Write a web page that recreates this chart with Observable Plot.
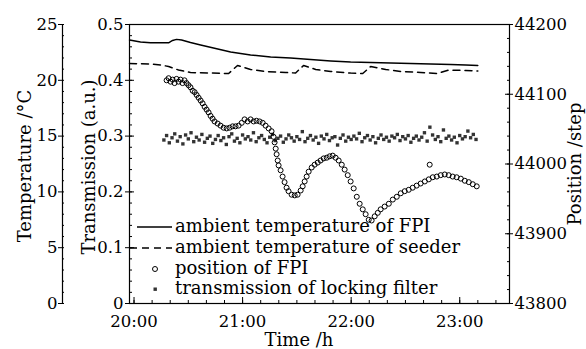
<!DOCTYPE html>
<html><head><meta charset="utf-8">
<script src="https://cdn.jsdelivr.net/npm/d3@7"></script>
<script src="https://cdn.jsdelivr.net/npm/@observablehq/plot@0.6"></script>
<style>body{margin:0;background:#fff} #chart{width:586px;height:349px}</style>
</head><body><div id="chart"></div>
<script>
// ---- data (time in minutes after 20:00) ----
const fpiTime = [-2.5,3.6,9.1,19.1,21.3,23.5,26.3,31.2,36.8,45.1,53.4,64.4,75.5,86.5,97.6,108.7,119.7,130.8,141.8,152.9,163.9,175.0,183.3,190.0];
const fpiTemp = [23.61,23.43,23.36,23.36,23.57,23.67,23.61,23.39,23.16,22.85,22.54,22.27,22.09,22.00,21.86,21.73,21.64,21.60,21.55,21.51,21.46,21.42,21.37,21.33];

const seedTime = [-2.5,9.1,14.7,19.1,24.6,31.2,42.3,52.3,57.2,64.4,72.7,83.8,89.3,93.7,100.4,108.7,119.7,126.4,130.8,139.1,147.4,158.4,167.8,173.9,183.3,190.0];
const seedTemp = [21.51,21.46,21.37,21.24,20.92,20.70,20.65,20.61,21.33,20.97,20.79,20.70,20.65,21.33,20.97,20.79,20.65,20.61,21.24,20.97,20.79,20.70,20.61,20.92,20.88,20.83];

const posTime = [18.0,19.1,20.2,21.3,22.4,23.5,24.6,25.7,26.8,27.9,29.0,30.1,
 31.2,32.4,33.5,34.6,35.7,36.8,37.9,39.0,40.1,41.2,42.3,43.4,44.5,
 46.2,47.8,49.5,51.2,52.8,54.5,56.1,57.8,59.5,61.1,62.8,64.4,66.1,67.7,69.4,71.1,72.7,74.4,76.0,
 77.1,77.7,78.3,78.8,79.4,79.9,81.0,82.1,83.2,84.3,85.4,87.1,88.8,90.4,92.1,
 93.2,94.3,95.4,96.5,98.2,99.8,101.5,103.1,104.8,106.5,108.1,109.8,111.4,113.1,
 114.8,116.4,118.1,119.7,121.4,123.1,124.7,126.4,128.0,129.7,131.3,
 133.0,134.7,136.3,138.5,140.8,143.0,145.2,147.4,149.6,151.8,154.0,156.2,158.4,160.7,162.9,165.1,167.3,169.5,171.7,173.9,176.1,178.3,180.6,182.8,185.0,187.2,189.4,
 163.4];
const posStep = [44120,44123,44118,44121,44116,44122,44118,44121,44116,44120,44116,44113,
 44110,44105,44103,44099,44095,44091,44087,44082,44078,44074,44069,44065,44061,
 44058,44055,44052,44051,44052,44054,44054,44055,44059,44064,44061,44064,44061,44062,44061,44059,44055,44051,44047,
 44039,44031,44022,44014,44005,43998,43991,43982,43974,43966,43961,43956,43955,43956,43962,
 43968,43975,43982,43989,43995,43999,44002,44005,44008,44009,44011,44012,44009,44005,
 43999,43992,43984,43975,43965,43953,43943,43935,43928,43920,43919,
 43925,43930,43935,43939,43943,43949,43953,43958,43961,43963,43966,43969,43972,43975,43978,43981,43982,43984,43985,43984,43982,43981,43979,43976,43974,43971,43968,
 43999];

const transTime = [16.5,18,19.5,21,22.5,24,25.5,27,28.5,30,31.5,33,34.5,36,37.5,39,40.5,42,43.5,45,46.5,48,49.5,51,52.5,54,55.5,57,58.5,60,61.5,63,64.5,66,67.5,69,70.5,72,73.5,75,76.5,78,79.5,81,82.5,84,85.5,87,88.5,90,91.5,93,94.5,96,97.5,99,100.5,102,103.5,105,106.5,108,109.5,111,112.5,114,115.5,117,118.5,120,121.5,123,124.5,126,127.5,129,130.5,132,133.5,135,136.5,138,139.5,141,142.5,144,145.5,147,148.5,150,151.5,153,154.5,156,157.5,159,160.5,162,163.5,165,166.5,168,169.5,171,172.5,174,175.5,177,178.5,180,181.5,183,184.5,186,187.5,189];
const transVal = [0.293,0.301,0.288,0.297,0.304,0.291,0.299,0.286,0.302,0.295,
 0.306,0.290,0.298,0.293,0.303,0.289,0.296,0.300,0.287,0.294,
 0.301,0.292,0.297,0.285,0.299,0.304,0.291,0.296,0.288,0.302,
 0.295,0.299,0.293,0.306,0.290,0.297,0.301,0.294,0.288,0.298,
 0.303,0.292,0.296,0.300,0.289,0.295,0.302,0.297,0.291,0.299,
 0.294,0.308,0.290,0.296,0.301,0.293,0.298,0.287,0.300,0.295,
 0.303,0.292,0.297,0.299,0.284,0.296,0.302,0.291,0.298,0.294,
 0.300,0.295,0.305,0.290,0.297,0.301,0.293,0.299,0.288,0.296,
 0.302,0.294,0.298,0.291,0.300,0.297,0.303,0.292,0.299,0.295,
 0.301,0.289,0.296,0.300,0.293,0.298,0.306,0.291,0.316,0.302,
 0.294,0.299,0.290,0.311,0.296,0.300,0.293,0.298,0.288,0.301,
 0.295,0.299,0.309,0.297,0.303,0.294];

// ---- ticks ----
const hourTicks = [0,60,120,180];
const hourLabels = ["20:00","21:00","22:00","23:00"];
const transTicks = [0,0.1,0.2,0.3,0.4,0.5];
const transLabels = ["0","0.1","0.2","0.3","0.4","0.5"];
const tempTicks = [0,5,10,15,20,25];
const tempLabels = ["0","5","10","15","20","25"];
const posTicks = [43800,43900,44000,44100,44200];
const posLabels = ["43800","43900","44000","44100","44200"];

const legendItems = ["ambient temperature of FPI","ambient temperature of seeder","position of FPI","transmission of locking filter"];

// ---- mapping of secondary axes onto the transmission scale ----
const tempToY = t => t / 50;
const posToY = p => (p - 43800) / 800;
const xDomain = [-2.5, 207.5];

const fpi = fpiTime.map((t,i)=>({t, v: tempToY(fpiTemp[i])}));
const seed = seedTime.map((t,i)=>({t, v: tempToY(seedTemp[i])}));
const pos = posTime.map((t,i)=>({t, v: posToY(posStep[i])}));
const trans = transTime.map((t,i)=>({t, v: transVal[i]}));

const lookup = (ticks, labels, conv) => d => {
  const i = ticks.findIndex(k => Math.abs(conv(k) - d) < 1e-9);
  return i >= 0 ? labels[i] : "";
};
const none = () => "";
const minorX = d3.range(0, 210, 10);
const minorTrans = d3.range(0, 0.5001, 0.02);
const minorTemp = d3.range(0, 25.01, 1).map(tempToY);
const minorPos = d3.range(43800, 44201, 20).map(posToY);

const W = 586, H = 349;
const plot = Plot.plot({
  width: W, height: H,
  marginLeft: 129, marginRight: 77, marginTop: 24, marginBottom: 46,
  style: {fontFamily: "DejaVu Serif", fontSize: "16.5px", background: "white", color: "black", overflow: "visible"},
  x: {domain: xDomain, label: null},
  y: {domain: [0, 0.5], label: null},
  marks: [
    Plot.frame({stroke: "black", strokeWidth: 1.2}),
    // x axis
    Plot.axisX({ticks: hourTicks, anchor: "bottom", tickSize: 0, tickPadding: 12, tickFormat: lookup(hourTicks, hourLabels, d=>d), label: null}),
    Plot.axisX({ticks: hourTicks, anchor: "bottom", tickSize: 6, dy: -6, tickFormat: none, label: null}),
    Plot.axisX({ticks: minorX, anchor: "bottom", tickSize: 3, dy: -3, tickFormat: none, label: null}),
    // transmission axis (left)
    Plot.axisY({ticks: transTicks, anchor: "left", tickSize: 4, tickPadding: 2, tickFormat: lookup(transTicks, transLabels, d=>d), label: null}),
    Plot.axisY({ticks: transTicks, anchor: "left", tickSize: 5, dx: 5, tickFormat: none, label: null}),
    Plot.axisY({ticks: minorTrans, anchor: "left", tickSize: 3, dx: 3, tickFormat: none, label: null}),
    // temperature axis (far left)
    Plot.ruleX([xDomain[0]], {dx: -67, stroke: "black", strokeWidth: 1.2}),
    Plot.axisY({ticks: tempTicks.map(tempToY), anchor: "left", dx: -67, tickSize: 4, tickPadding: 1, tickFormat: lookup(tempTicks, tempLabels, tempToY), label: null}),
    Plot.axisY({ticks: minorTemp, anchor: "left", dx: -65, tickSize: 2, tickFormat: none, label: null}),
    // position axis (right)
    Plot.axisY({ticks: posTicks.map(posToY), anchor: "right", tickSize: 3, tickPadding: 2, tickFormat: lookup(posTicks, posLabels, posToY), label: null}),
    Plot.axisY({ticks: posTicks.map(posToY), anchor: "right", tickSize: 5, dx: -5, tickFormat: none, label: null}),
    Plot.axisY({ticks: minorPos, anchor: "right", tickSize: 3, dx: -3, tickFormat: none, label: null}),
    // data
    Plot.line(fpi, {x: "t", y: "v", stroke: "black", strokeWidth: 1.4}),
    Plot.line(seed, {x: "t", y: "v", stroke: "black", strokeWidth: 1.5, strokeDasharray: "7,5"}),
    Plot.dot(trans, {x: "t", y: "v", symbol: "square", r: 1.9, fill: "#333", stroke: "none"}),
    Plot.dot(pos, {x: "t", y: "v", r: 2.5, stroke: "black", strokeWidth: 1, fill: "none"})
  ]
});
document.getElementById("chart").appendChild(plot);

// ---- titles and legend ----
const svg = d3.select(plot);
const titles = svg.append("g").attr("font-family", "DejaVu Serif").attr("font-size", 18).attr("fill", "black").attr("text-anchor", "middle");
titles.append("text").attr("transform", "translate(31,166) rotate(-90)").text("Temperature /°C");
titles.append("text").attr("transform", "translate(95,167) rotate(-90)").text("Transmission (a.u.)");
titles.append("text").attr("transform", "translate(581,164) rotate(-90)").text("Position /step");
titles.append("text").attr("x", 299).attr("y", 346).text("Time /h");

const lg = svg.append("g").attr("font-family", "DejaVu Serif").attr("font-size", 18).attr("fill", "black").attr("text-anchor", "start");
const rowY = [227, 248, 269, 289];
legendItems.forEach((lab, i) => {
  lg.append("text").attr("x", 175).attr("y", rowY[i] + 5).attr("text-anchor", "start").text(lab);
});
lg.append("line").attr("x1", 137).attr("x2", 172).attr("y1", rowY[0]).attr("y2", rowY[0]).attr("stroke", "black").attr("stroke-width", 1.4);
lg.append("line").attr("x1", 130).attr("x2", 172).attr("y1", rowY[1]).attr("y2", rowY[1]).attr("stroke", "black").attr("stroke-width", 1.5).attr("stroke-dasharray", "7,5");
lg.append("circle").attr("cx", 155).attr("cy", rowY[2]).attr("r", 2.5).attr("fill", "none").attr("stroke", "black").attr("stroke-width", 1);
lg.append("rect").attr("x", 153.5).attr("y", rowY[3] - 1.5).attr("width", 3.4).attr("height", 3.4).attr("fill", "#333");
</script></body></html>
